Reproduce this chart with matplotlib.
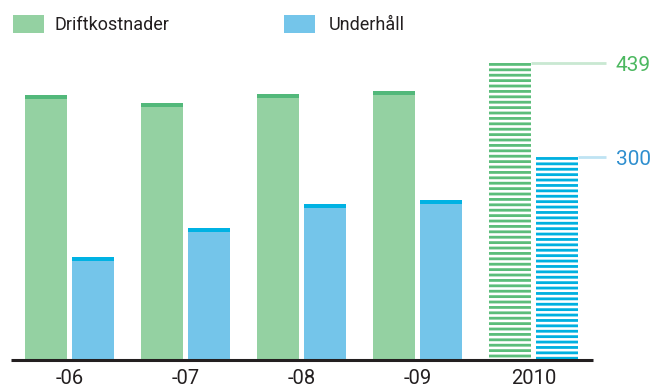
import numpy as np
import matplotlib.pyplot as plt
from matplotlib.patches import Rectangle

plt.rcParams['font.family'] = ['Roboto', 'DejaVu Sans']

years = ['-06', '-07', '-08', '-09', '2010']
drift = [392, 380, 393, 398, 439]
underhall = [152, 195, 231, 237, 300]
legend_labels = ['Driftkostnader', 'Underhåll']

green_light = '#94d1a2'
green_cap = '#52b87a'
green_stripe = '#5bbd7a'
blue_light = '#74c5ea'
blue_cap = '#00b2e3'
blue_stripe = '#00b0e0'
dark = '#231f20'

W, H = 654, 387
fig = plt.figure(figsize=(W / 100, H / 100), dpi=100)
ax = fig.add_axes([0, 27 / H, 1, 360 / H])
ax.set_xlim(-69.5 / 116, (W - 69.5) / 116)
ax.set_ylim(0, 360 / 0.6765)
ax.axis('off')

bw = 42 / 116
off = 23.5 / 116
cap = 4 / 0.6765
x = np.arange(len(years))

# history bars with a darker cap
for i in range(len(years) - 1):
    for xv, v, c1, c2 in [(x[i] - off, drift[i], green_light, green_cap),
                          (x[i] + off, underhall[i], blue_light, blue_cap)]:
        ax.bar(xv, v - cap, width=bw, color=c1, linewidth=0)
        ax.bar(xv, cap, bottom=v - cap, width=bw, color=c2, linewidth=0)

# 2010 striped bars
period = 5.4 / 0.6765
thick = 2.8 / 0.6765
for xv, v, c in [(x[-1] - off, drift[-1], green_stripe),
                 (x[-1] + off, underhall[-1], blue_stripe)]:
    tops = np.arange(v, 0, -period)
    bottoms = np.maximum(tops - thick, 0)
    bars = ax.bar(np.full(len(tops), xv), tops - bottoms, bottom=bottoms,
                  width=bw, color=c, linewidth=0)
    for b in bars:
        b.set_snap(False)

# leader lines and value labels
lx_end = (606 - 69.5) / 116
ax.plot([x[-1] - off + bw / 2, lx_end], [drift[-1]] * 2, color='#c9e8d2', lw=2, solid_capstyle='butt')
ax.plot([x[-1] + off + bw / 2, lx_end], [underhall[-1]] * 2, color='#bfe3f3', lw=2, solid_capstyle='butt')
ax.text((616 - 69.5) / 116, drift[-1] - 3.5, str(drift[-1]), color='#4cb860', fontsize=15,
        va='center', ha='left')
ax.text((616 - 69.5) / 116, underhall[-1] - 3.5, str(underhall[-1]), color='#2f8fcf', fontsize=15,
        va='center', ha='left')

# baseline
ax.plot([(11 - 69.5) / 116, (593 - 69.5) / 116], [0, 0], color=dark, lw=2.2,
        solid_capstyle='butt', clip_on=False)

for xi, lab in zip(x, years):
    ax.text(xi, -13, lab, ha='center', va='top', fontsize=14.5, color=dark)

# legend
for (px, tx), lab, c in zip([(13, 55), (284, 329)], legend_labels, [green_light, blue_light]):
    fig.patches.append(Rectangle((px / W, 1 - 33 / H), 31 / W, 18 / H,
                                 transform=fig.transFigure, color=c, linewidth=0))
    fig.text(tx / W, 1 - 25 / H, lab, fontsize=13, va='center', ha='left', color=dark)

fig.savefig('out.png', dpi=100)
